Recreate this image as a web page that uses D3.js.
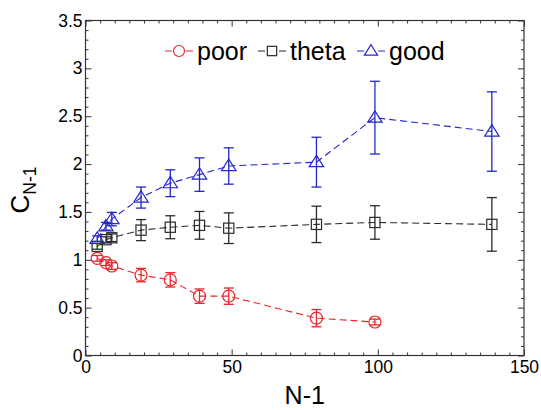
<!DOCTYPE html>
<html>
<head>
<meta charset="utf-8">
<script src="https://cdn.jsdelivr.net/npm/d3@7"></script>
<style>
  html, body { margin: 0; padding: 0; background: #fff; }
  svg { display: block; font-family: "Liberation Sans", Arial, Helvetica, sans-serif; }
</style>
</head>
<body>
<svg id="chart" width="541" height="410"></svg>
<script>
// Chain length N-1 on the x axis
const xValues = [4, 7, 9, 19, 29, 39, 49, 79, 99, 139];

// C_{N-1} and its uncertainty for each solvent quality
const poorY   = [1.015, 0.97, 0.935, 0.84, 0.79, 0.62, 0.62, 0.39, 0.35];
const poorErr = [0.03, 0.03, 0.035, 0.07, 0.075, 0.075, 0.085, 0.09, 0.03];
const thetaY   = [1.14, 1.21, 1.23, 1.31, 1.34, 1.36, 1.33, 1.37, 1.39, 1.37];
const thetaErr = [0.03, 0.03, 0.04, 0.11, 0.12, 0.145, 0.16, 0.19, 0.175, 0.28];
const goodY   = [1.22, 1.35, 1.425, 1.65, 1.80, 1.89, 1.98, 2.02, 2.485, 2.34];
const goodErr = [0.03, 0.04, 0.07, 0.11, 0.14, 0.175, 0.19, 0.26, 0.38, 0.415];

const seriesNames = ["poor", "theta", "good"];
const xTicks = [0, 50, 100, 150];
const yTicks = [0, 0.5, 1, 1.5, 2, 2.5, 3, 3.5];

const series = [
  { name: seriesNames[0], y: poorY,  err: poorErr,  color: "#e8262b", marker: "circle" },
  { name: seriesNames[1], y: thetaY, err: thetaErr, color: "#2b2b2b", marker: "square" },
  { name: seriesNames[2], y: goodY,  err: goodErr,  color: "#2626c8", marker: "triangle" }
];

const svg = d3.select("#chart");
const m = { left: 85.5, right: 524, top: 20.5, bottom: 355.5 };

const x = d3.scaleLinear().domain([0, 150]).range([m.left, m.right]);
const y = d3.scaleLinear().domain([0, 3.5]).range([m.bottom, m.top]);

// Frame with inward ticks on all four sides
const g = svg.append("g");
const frameColor = "#333";

function tickSide(axisFn, scale, transform, major, minor, labels) {
  const minorAxis = axisFn(scale).tickValues(minor).tickSize(-3).tickFormat("");
  const a = g.append("g").attr("transform", transform).call(minorAxis);
  a.select(".domain").remove();
  a.selectAll("line").attr("stroke", frameColor);
  const majorAxis = axisFn(scale).tickValues(major).tickSize(-6).tickPadding(labels ? 10 : 0)
    .tickFormat(labels ? d3.format("") : "");
  const b = g.append("g").attr("transform", transform).call(majorAxis);
  b.select(".domain").remove();
  b.selectAll("line").attr("stroke", frameColor);
  return b;
}

const xMinor = d3.range(0, 151, 5).filter(v => v % 50 !== 0);
const yMinor = d3.range(0, 36, 1).map(v => v / 10).filter(v => Math.round(v * 10) % 5 !== 0);

const bottomAxis = tickSide(d3.axisBottom, x, `translate(0,${m.bottom})`, xTicks, xMinor, true);
bottomAxis.selectAll("text").attr("font-size", 17.5).attr("fill", "#000")
  .attr("dy", "0.71em").attr("y", 5);
tickSide(d3.axisTop, x, `translate(0,${m.top})`, xTicks, xMinor, false);
const leftAxis = tickSide(d3.axisLeft, y, `translate(${m.left},0)`, yTicks, yMinor, true);
leftAxis.selectAll("text").attr("font-size", 17.5).attr("fill", "#000").attr("x", -3);
tickSide(d3.axisRight, y, `translate(${m.right},0)`, yTicks, yMinor, false);

g.append("rect")
  .attr("x", m.left).attr("y", m.top)
  .attr("width", m.right - m.left).attr("height", m.bottom - m.top)
  .attr("fill", "none").attr("stroke", frameColor).attr("stroke-width", 1.2);

// Axis titles
svg.append("text")
  .attr("x", (m.left + m.right) / 2).attr("y", 404)
  .attr("text-anchor", "middle").attr("font-size", 25).text("N-1");

const yTitle = svg.append("text")
  .attr("transform", `translate(29,${(m.top + m.bottom) / 2 + 2}) rotate(-90)`)
  .attr("text-anchor", "middle").attr("font-size", 26);
yTitle.append("tspan").text("C");
yTitle.append("tspan").attr("font-size", 17.5).attr("dy", 7).text("N-1");

// Marker shapes
function drawMarker(sel, type, color, size) {
  if (type === "circle") {
    sel.append("circle").attr("r", size * 0.5)
      .attr("fill", "none").attr("stroke", color).attr("stroke-width", 1.2);
  } else if (type === "square") {
    const s = size * 0.85;
    sel.append("rect").attr("x", -s / 2).attr("y", -s / 2).attr("width", s).attr("height", s)
      .attr("fill", "none").attr("stroke", color).attr("stroke-width", 1.2);
  } else {
    const w = size * 0.6, h = size * 0.95;
    sel.append("path")
      .attr("d", `M0,${-h * 0.6}L${w},${h * 0.4}L${-w},${h * 0.4}Z`)
      .attr("fill", "none").attr("stroke", color).attr("stroke-width", 1.2);
  }
}

const line = d3.line().x(d => x(d.x)).y(d => y(d.y));

series.forEach(s => {
  const pts = s.y.map((v, i) => ({ x: xValues[i], y: v, e: s.err[i] }));
  const sg = svg.append("g");

  sg.append("path").datum(pts)
    .attr("d", line).attr("fill", "none")
    .attr("stroke", s.color).attr("stroke-width", 1.1)
    .attr("stroke-dasharray", "7,4");

  const eb = sg.selectAll(".eb").data(pts).enter().append("g")
    .attr("stroke", s.color).attr("stroke-width", 1.3);
  eb.append("line")
    .attr("x1", d => x(d.x)).attr("x2", d => x(d.x))
    .attr("y1", d => y(d.y - d.e)).attr("y2", d => y(d.y + d.e));
  eb.append("line")
    .attr("x1", d => x(d.x) - 5).attr("x2", d => x(d.x) + 5)
    .attr("y1", d => y(d.y + d.e)).attr("y2", d => y(d.y + d.e));
  eb.append("line")
    .attr("x1", d => x(d.x) - 5).attr("x2", d => x(d.x) + 5)
    .attr("y1", d => y(d.y - d.e)).attr("y2", d => y(d.y - d.e));

  sg.selectAll(".mk").data(pts).enter().append("g")
    .attr("transform", d => `translate(${x(d.x)},${y(d.y)})`)
    .each(function () { drawMarker(d3.select(this), s.marker, s.color, 12); });
});

// Legend
const legendX = [165, 258, 357];
series.forEach((s, i) => {
  const lg = svg.append("g").attr("transform", `translate(${legendX[i]},51)`);
  lg.append("line").attr("x1", 0).attr("x2", 28).attr("y1", 0).attr("y2", 0)
    .attr("stroke", s.color).attr("stroke-width", 1.1).attr("stroke-dasharray", "7,14,7");
  const mk = lg.append("g").attr("transform", "translate(14,0)");
  drawMarker(mk, s.marker, s.color, 11);
  lg.append("text").attr("x", 32).attr("y", 9).attr("font-size", 25).attr("fill", "#000").text(s.name);
});
</script>
</body>
</html>
